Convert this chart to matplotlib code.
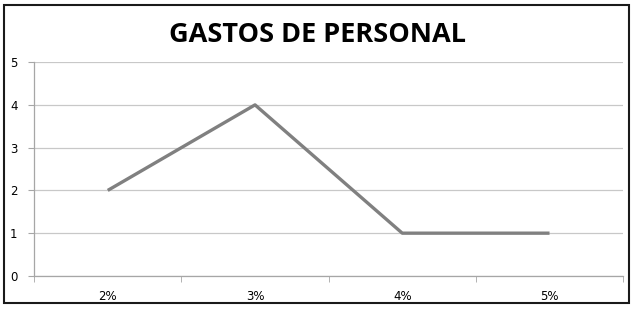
import numpy as np
import matplotlib.pyplot as plt
from matplotlib.patches import Rectangle

# Datos del gráfico
categorias = ['2%', '3%', '4%', '5%']
valores = [2, 4, 1, 1]
titulo = 'GASTOS DE PERSONAL'

fig = plt.figure(figsize=(6.32, 3.09), dpi=100)
ax = fig.add_axes([0.054, 0.107, 0.932, 0.692])

x = np.arange(len(categorias))
ax.plot(x, valores, color='#808080', linewidth=2.4, solid_capstyle='butt')

ax.set_xlim(-0.5, len(categorias) - 0.5)
ax.set_ylim(0, 5)
ax.set_yticks(range(0, 6))
ax.set_xticks(x)
ax.set_xticklabels(categorias)
ax.set_xticks(np.arange(-0.5, len(categorias)), minor=True)

ax.grid(axis='y', color='#c8c8c8', linewidth=0.9)
ax.set_axisbelow(True)
for s in ['top', 'right']:
    ax.spines[s].set_visible(False)
for s in ['left', 'bottom']:
    ax.spines[s].set_color('#a6a6a6')
    ax.spines[s].set_linewidth(0.9)

ax.tick_params(axis='x', which='major', length=0, pad=10, labelsize=8.5)
ax.tick_params(axis='x', which='minor', length=4, color='#a6a6a6', direction='out')
ax.tick_params(axis='y', length=4, color='#a6a6a6', pad=8, labelsize=8.5)

fig.text(0.503, 0.887, titulo, ha='center', va='center',
         fontsize=19.5, fontweight='bold', family='Open Sans')

# Marco del gráfico
fig.patches.append(Rectangle((0.007, 0.018), 0.988, 0.966, transform=fig.transFigure,
                             fill=False, edgecolor='#1a1a1a', linewidth=1.5))

fig.savefig('out.png', dpi=100)
